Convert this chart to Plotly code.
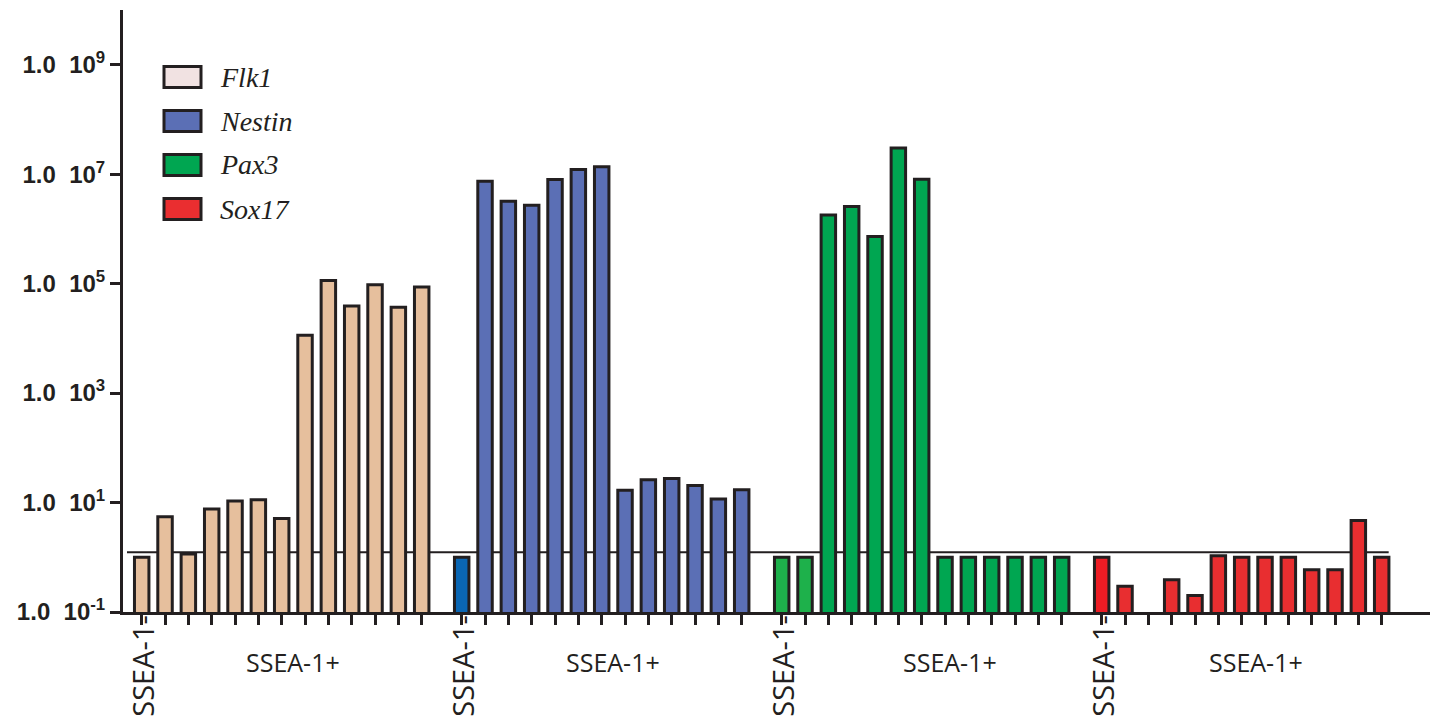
import plotly.graph_objects as go

# ---------------- data ----------------
genes = ["Flk1", "Nestin", "Pax3", "Sox17"]
flk1 = [1.0, 5.5, 1.15, 7.6, 10.7, 11.3, 5.1, 1.14e4, 1.14e5, 3.9e4, 9.5e4, 3.7e4, 8.7e4]
nestin = [1.0, 7.4e6, 3.2e6, 2.7e6, 8.0e6, 1.22e7, 1.37e7, 16.8, 26.2, 27.4, 20.4, 11.6, 17.2]
pax3 = [1.0, 1.0, 1.8e6, 2.57e6, 7.3e5, 3.0e7, 8.1e6, 1.0, 1.0, 1.0, 1.0, 1.0, 1.0]
sox17 = [1.0, 0.295, None, 0.39, 0.2, 1.07, 1.0, 1.0, 1.0, 0.59, 0.59, 4.7, 1.0]
series = [flk1, nestin, pax3, sox17]
ref_level = 1.23

ytick_vals = [0.1, 10, 1e3, 1e5, 1e7, 1e9]
ytick_exps = ["-1", "1", "3", "5", "7", "9"]
neg_label = "SSEA-1-"
pos_label = "SSEA-1+"

# ---------------- style ----------------
bar_colors = ["#e6bf9d", "#5b6fb5", "#00a651", "#e82e30"]
first_colors = [["#e6bf9d"], ["#0a66b3"], ["#1eb14b", "#1eb14b"], ["#ed1c24"]]
legend_colors = ["#f1e2e2", "#5b6fb5", "#00a651", "#ea2e30"]
ink = "#231f20"

W, H = 1443, 724
OFF = 8  # page offset of the figure in the browser
PL, PT, PR, PB = 123, 10, 1430, 612  # plot area in screen pixels
ML, MT = PL - OFF, PT - OFF
MR, MB = W - (PR - OFF), H - (PB - OFF)
PW, PH = PR - PL, PB - PT
slot = 23.333
group_step = 12 + 40 / slot
pos_label_offset = [6.5, 6.5, 7.2, 6.6]


def px_to_paper_x(px):
    return (px - PL) / PW


def px_to_paper_y(py):
    return (PB - py) / PH


fig = go.Figure()
all_ticks = []
for g, vals in enumerate(series):
    xs = [g * group_step + i for i in range(len(vals))]
    all_ticks += xs
    cols = [bar_colors[g]] * len(vals)
    for k, c in enumerate(first_colors[g]):
        cols[k] = c
    fig.add_trace(go.Bar(
        x=xs, y=vals, name=genes[g], width=0.62,
        marker=dict(color=cols, line=dict(color=ink, width=3)),
        showlegend=False,
    ))

x_lo = -18.7 / slot
x_hi = x_lo + PW / slot

# reference line (behind bars)
fig.add_shape(type="line", xref="x", yref="y",
              x0=-0.63, x1=3 * group_step + 12 + 0.3, y0=ref_level, y1=ref_level,
              line=dict(color=ink, width=2), layer="below")

# group labels
for g in range(4):
    x0 = g * group_step
    fig.add_annotation(x=x0 + pos_label_offset[g], xref="x", y=px_to_paper_y(662), yref="paper",
                       text=pos_label, showarrow=False, xanchor="center", yanchor="middle",
                       font=dict(family="Open Sans", size=25, color=ink))
    fig.add_annotation(x=x0, xref="x", y=px_to_paper_y(613), yref="paper",
                       text=neg_label, showarrow=False, textangle=-90,
                       xanchor="center", yanchor="top",
                       font=dict(family="Open Sans", size=29, color=ink))

# manual legend
for k, gname in enumerate(genes):
    cy = 77 + 44 * k
    fig.add_shape(type="rect", xref="paper", yref="paper",
                  x0=px_to_paper_x(164), x1=px_to_paper_x(201),
                  y0=px_to_paper_y(cy + 10.5), y1=px_to_paper_y(cy - 10.5),
                  fillcolor=legend_colors[k], line=dict(color=ink, width=3))
    fig.add_annotation(x=px_to_paper_x(218), y=px_to_paper_y(cy), xref="paper", yref="paper",
                       text="<i>%s</i>" % gname, showarrow=False, xanchor="left", yanchor="middle",
                       font=dict(family="Liberation Serif", size=28, color=ink))

fig.update_layout(
    width=W, height=H,
    margin=dict(l=ML, r=MR, t=MT, b=MB, pad=0),
    plot_bgcolor="white", paper_bgcolor="white",
    barmode="overlay", showlegend=False,
    xaxis=dict(range=[x_lo, x_hi], showgrid=False, zeroline=False,
               showline=True, linecolor=ink, linewidth=3,
               ticks="outside", ticklen=10, tickwidth=3, tickcolor=ink,
               tickvals=all_ticks, ticktext=[""] * len(all_ticks)),
    yaxis=dict(type="log", range=[-1, 10], showgrid=False, zeroline=False,
               showline=True, linecolor=ink, linewidth=3,
               ticks="outside", ticklen=10, tickwidth=3, tickcolor=ink,
               tickvals=ytick_vals,
               ticktext=["<b>1.0&nbsp;&nbsp;10<sup>%s</sup></b>" % e for e in ytick_exps],
               tickfont=dict(family="Liberation Sans", size=24, color=ink)),
)

fig.write_html("out.html")
